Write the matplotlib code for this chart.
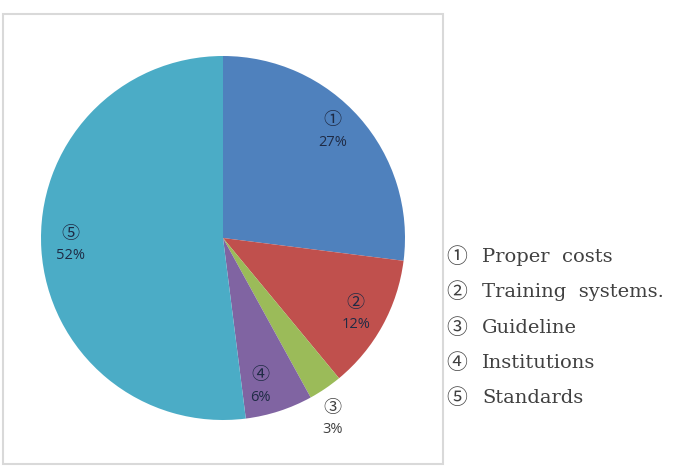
import numpy as np
import matplotlib.pyplot as plt
from matplotlib.patches import Rectangle

# data
marks = ['①', '②', '③', '④', '⑤']
names = ['Proper  costs', 'Training  systems.', 'Guideline', 'Institutions', 'Standards']
shares = [27, 12, 3, 6, 52]
colors = ['#4f81bd', '#c0504d', '#9bbb59', '#8064a2', '#4bacc6']

fig = plt.figure(figsize=(6.76, 4.67), dpi=100)

# frame around the chart area
fig.patches.append(Rectangle((3 / 676, 1 - 464 / 467), 440 / 676, 450 / 467,
                             transform=fig.transFigure, fill=False,
                             edgecolor='#d9d9d9', linewidth=1.5))

# pie axes: center (223, 238), radius ~182 px
r = 182
ax = fig.add_axes([(223 - r) / 676, 1 - (238 + r) / 467, 2 * r / 676, 2 * r / 467])
wedges, _ = ax.pie(shares, colors=colors, startangle=90, counterclock=False,
                   radius=1.0, wedgeprops=dict(linewidth=0))
ax.set_xlim(-1, 1)
ax.set_ylim(-1, 1)
ax.set_aspect('auto')

# small angle tweaks (deg) to mimic the spreadsheet's label placement
tweak = [3, -1, -3, -4, -1]
cum = 0
for i, v in enumerate(shares):
    mid = np.deg2rad(90 - (cum + v / 2) / 100 * 360 + tweak[i])
    cum += v
    d = 1.16 if v < 5 else 0.84
    col = '#404040' if v < 5 else '#1f2b45'
    x, y = d * np.cos(mid), d * np.sin(mid)
    ax.text(x, y + 11 / r, marks[i], ha='center', va='center', fontsize=13,
            color=col, family=['Noto Sans CJK JP', 'DejaVu Sans'])
    ax.text(x, y - 11 / r, f'{v}%', ha='center', va='center', fontsize=10.5,
            color=col, family=['Open Sans', 'DejaVu Sans'])

# legend as text to the right of the frame
for i, (m, n) in enumerate(zip(marks, names)):
    y = 1 - (257 + i * 35.3) / 467
    fig.text(446 / 676, y, m, ha='left', va='center', fontsize=15,
             color='#404040', family=['Noto Sans CJK JP', 'DejaVu Sans'])
    fig.text(482 / 676, y, n, ha='left', va='center', fontsize=14,
             color='#404040', family=['DejaVu Serif'])

fig.savefig('out.png', dpi=100)
